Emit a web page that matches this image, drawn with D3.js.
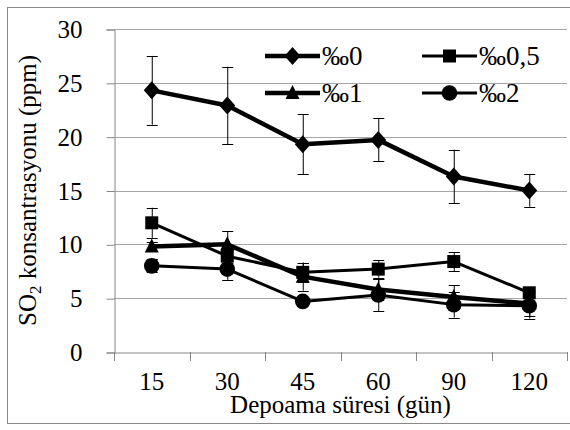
<!DOCTYPE html>
<html>
<head>
<meta charset="utf-8">
<script src="https://cdn.jsdelivr.net/npm/d3@7"></script>
<style>
body { margin: 0; background: #fff; }
svg text { font-family: "Liberation Serif", "Times New Roman", serif; fill: #000; }
</style>
</head>
<body>
<div id="chart"></div>
<script>
var days = ["15", "30", "45", "60", "90", "120"];
var yTicks = [0, 5, 10, 15, 20, 25, 30];
var names = ["‰0", "‰0,5", "‰1", "‰2"];
var shapes = ["diamond", "square", "triangle", "circle"];
var v0 = [24.3, 22.9, 19.3, 19.7, 16.3, 15.0];
var e0 = [3.2, 3.6, 2.8, 2.0, 2.5, 1.5];
var v05 = [12.0, 8.9, 7.4, 7.7, 8.4, 5.5];
var e05 = [1.4, 0.6, 0.9, 0.8, 0.9, 0.3];
var v1 = [9.8, 10.0, 7.0, 5.8, 5.1, 4.5];
var e1 = [0.4, 1.2, 1.3, 1.0, 1.1, 1.2];
var v2 = [8.0, 7.7, 4.7, 5.3, 4.4, 4.3];
var e2 = [0.6, 1.0, 0.3, 1.5, 1.2, 1.2];

var width = 570, height = 430;
var plotLeft = 114, plotRight = 567, plotTop = 29, plotBottom = 352;
var serif = "Liberation Serif";

var series = [
  {name: names[0], shape: shapes[0], vals: v0, errs: e0, lw: 4.5},
  {name: names[1], shape: shapes[1], vals: v05, errs: e05, lw: 3},
  {name: names[2], shape: shapes[2], vals: v1, errs: e1, lw: 4.5},
  {name: names[3], shape: shapes[3], vals: v2, errs: e2, lw: 3}
];

var svg = d3.select("#chart").append("svg")
  .attr("width", width)
  .attr("height", height);

svg.append("rect")
  .attr("x", 7.5).attr("y", 7.5)
  .attr("width", 570).attr("height", 416)
  .attr("fill", "none").attr("stroke", "#888");

var x = d3.scaleBand().domain(days).range([plotLeft, plotRight]);
var y = d3.scaleLinear().domain([0, 30]).range([plotBottom, plotTop]);

// gridlines
svg.append("g").selectAll("line")
  .data(yTicks.slice(1))
  .enter().append("line")
  .attr("x1", plotLeft).attr("x2", plotRight)
  .attr("y1", d => Math.round(y(d)) + 0.5)
  .attr("y2", d => Math.round(y(d)) + 0.5)
  .attr("stroke", "#a6a6a6");

// y axis
var yAxis = svg.append("g")
  .attr("transform", "translate(" + (plotLeft + 0.5) + ",0.5)")
  .call(d3.axisLeft(y).tickValues(yTicks).tickSize(8).tickPadding(24));
yAxis.attr("font-family", serif);
yAxis.select(".domain").attr("stroke", "#888");
yAxis.selectAll(".tick line").attr("stroke", "#888");
yAxis.selectAll("text").style("font-size", "25px");

// x axis
var xAxis = svg.append("g")
  .attr("transform", "translate(0," + (plotBottom + 0.5) + ")")
  .call(d3.axisBottom(x).tickSize(0).tickPadding(20));
xAxis.attr("font-family", serif);
xAxis.select(".domain").attr("stroke", "#888");
xAxis.selectAll("text").style("font-size", "25px");
svg.append("g").selectAll("line")
  .data(days.concat(["end"]))
  .enter().append("line")
  .attr("x1", (d, i) => Math.round(plotLeft + i * x.step()) + 0.5)
  .attr("x2", (d, i) => Math.round(plotLeft + i * x.step()) + 0.5)
  .attr("y1", plotBottom).attr("y2", plotBottom + 9)
  .attr("stroke", "#888");

// axis titles
svg.append("text")
  .attr("x", (plotLeft + plotRight) / 2).attr("y", 413)
  .attr("text-anchor", "middle")
  .attr("font-family", serif)
  .style("font-size", "25px")
  .text("Depoama süresi (gün)");

var yt = svg.append("text")
  .attr("transform", "translate(36," + ((plotTop + plotBottom) / 2) + ") rotate(-90)")
  .attr("text-anchor", "middle")
  .attr("font-family", serif)
  .style("font-size", "25px");
yt.append("tspan").text("SO");
yt.append("tspan").attr("dy", 5).style("font-size", "17px").text("2");
yt.append("tspan").attr("dy", -5).text(" konsantrasyonu (ppm)");

function marker(g, shape) {
  if (shape == "diamond") {
    g.append("path").attr("d", "M0,-9L8,0L0,9L-8,0Z");
  } else if (shape == "square") {
    g.append("rect").attr("x", -6.5).attr("y", -6.5).attr("width", 13).attr("height", 13);
  } else if (shape == "triangle") {
    g.append("path").attr("d", "M0,-8L7,6L-7,6Z");
  } else {
    g.append("circle").attr("r", 7.8);
  }
}

var cx = d => x(d) + x.bandwidth() / 2;

series.forEach(s => {
  var g = svg.append("g");
  // error bars
  var eb = g.selectAll(".eb").data(days).enter().append("g");
  eb.append("line")
    .attr("x1", d => cx(d) + 0.5).attr("x2", d => cx(d) + 0.5)
    .attr("y1", (d, i) => y(s.vals[i] + s.errs[i]))
    .attr("y2", (d, i) => y(s.vals[i] - s.errs[i]))
    .attr("stroke", "#000").attr("stroke-width", 1);
  [1, -1].forEach(sg => {
    eb.append("line")
      .attr("x1", d => cx(d) - 5).attr("x2", d => cx(d) + 6)
      .attr("y1", (d, i) => Math.round(y(s.vals[i] + sg * s.errs[i])) + 0.5)
      .attr("y2", (d, i) => Math.round(y(s.vals[i] + sg * s.errs[i])) + 0.5)
      .attr("stroke", "#000").attr("stroke-width", 1);
  });
  var line = d3.line().x(d => cx(d)).y((d, i) => y(s.vals[i]));
  g.append("path")
    .attr("d", line(days))
    .attr("fill", "none").attr("stroke", "#000")
    .attr("stroke-width", s.lw).attr("stroke-linejoin", "round");
  days.forEach((d, i) => {
    var m = g.append("g").attr("transform", "translate(" + cx(d) + "," + y(s.vals[i]) + ")");
    marker(m, s.shape);
  });
});

// legend
var legend = svg.append("g").selectAll(".legend")
  .data(series)
  .enter().append("g")
  .attr("transform", (d, i) => "translate(" + (265 + (i % 2) * 157) + "," + (56 + Math.floor(i / 2) * 37) + ")");
legend.append("line")
  .attr("x1", 0).attr("x2", 55).attr("y1", 0).attr("y2", 0)
  .attr("stroke", "#000").attr("stroke-width", d => d.lw);
legend.each(function(d) {
  var m = d3.select(this).append("g").attr("transform", "translate(27.5,0)");
  marker(m, d.shape);
});
// per-mille sign and number as separate texts so the digits keep the serif face
legend.append("text")
  .attr("class", "pm")
  .attr("x", 57).attr("y", 0).attr("dy", "0.35em")
  .attr("font-family", serif)
  .style("font-size", "27px")
  .text(d => d.name.slice(0, 1));
legend.each(function(d) {
  var g = d3.select(this);
  var w = g.select(".pm").node().getComputedTextLength();
  g.append("text")
    .attr("x", 57 + w).attr("y", 0).attr("dy", "0.35em")
    .attr("font-family", serif)
    .style("font-size", "27px")
    .text(d.name.slice(1));
});
</script>
</body>
</html>
